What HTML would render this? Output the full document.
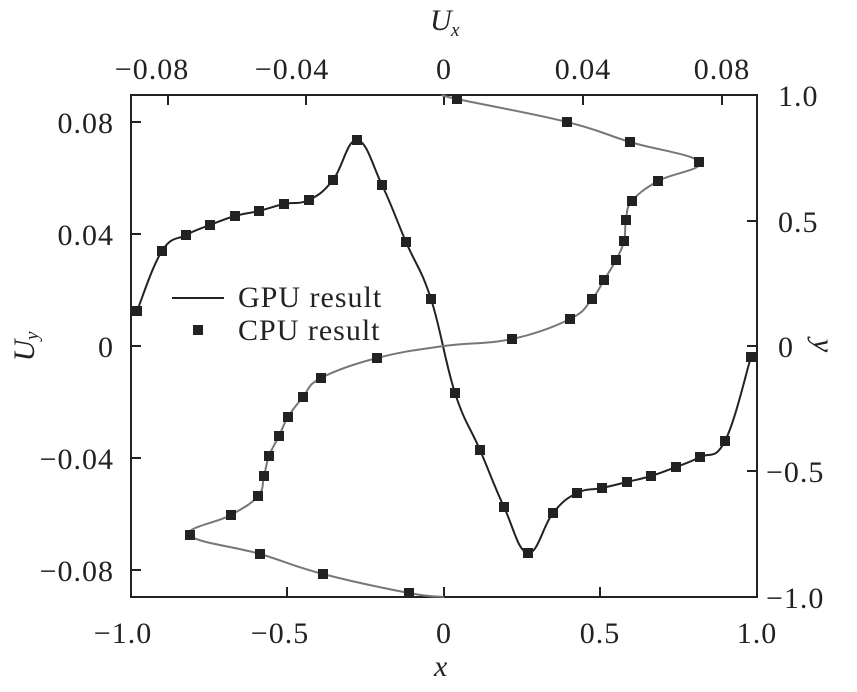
<!DOCTYPE html>
<html><head><meta charset="utf-8"><style>
body{margin:0;background:#fff}
svg text{font-family:"Liberation Serif",serif;font-size:30px;fill:#222;letter-spacing:1px}
</style></head><body>
<svg id="s" width="857" height="687" xmlns="http://www.w3.org/2000/svg">
<rect x="131" y="95" width="626" height="502" fill="none" stroke="#222" stroke-width="2"/>
<g stroke="#222" stroke-width="2">
<line x1="131" y1="122" x2="141" y2="122"/><line x1="131" y1="234" x2="141" y2="234"/><line x1="131" y1="346" x2="141" y2="346"/><line x1="131" y1="458" x2="141" y2="458"/><line x1="131" y1="570" x2="141" y2="570"/>
<line x1="757" y1="221" x2="747" y2="221"/><line x1="757" y1="346" x2="747" y2="346"/><line x1="757" y1="471" x2="747" y2="471"/>
<line x1="287" y1="597" x2="287" y2="587"/><line x1="444" y1="597" x2="444" y2="587"/><line x1="600" y1="597" x2="600" y2="587"/>
<line x1="168" y1="95" x2="168" y2="105"/><line x1="306" y1="95" x2="306" y2="105"/><line x1="444" y1="95" x2="444" y2="105"/><line x1="583" y1="95" x2="583" y2="105"/><line x1="722" y1="95" x2="722" y2="105"/>
</g>
<g text-anchor="end">
<text x="114" y="133">0.08</text><text x="114" y="245">0.04</text><text x="114" y="357">0</text><text x="114" y="469">−0.04</text><text x="114" y="581">−0.08</text>
</g>
<g text-anchor="start">
<text x="778" y="106">1.0</text><text x="778" y="232">0.5</text><text x="778" y="357">0</text><text x="766" y="482">−0.5</text><text x="766" y="608">−1.0</text>
</g>
<g text-anchor="middle">
<text x="123" y="643">−1.0</text><text x="280" y="643">−0.5</text><text x="444" y="643">0</text><text x="600" y="643">0.5</text><text x="757" y="643">1.0</text>
<text x="152" y="79">−0.08</text><text x="292" y="79">−0.04</text><text x="444" y="79">0</text><text x="583" y="79">0.04</text><text x="722" y="79">0.08</text>
</g>
<text x="434" y="676" font-style="italic">x</text>
<text x="430" y="30" font-style="italic">U</text><text x="451" y="36" font-style="italic" style="font-size:19px">x</text>
<text x="34" y="350" font-style="italic" transform="rotate(-90 34 350)" text-anchor="middle">U</text>
<text x="38" y="340" font-style="italic" transform="rotate(-90 38 340)" style="font-size:19px">y</text>
<text x="814" y="346" font-style="italic" transform="rotate(90 814 346)" text-anchor="middle">y</text>
<line x1="172" y1="298" x2="224" y2="298" stroke="#222" stroke-width="2"/>
<text x="238" y="307">GPU result</text>
<rect x="193" y="325" width="10" height="10" fill="#222"/>
<text x="238" y="340">CPU result</text>
<path id="pb" fill="none" stroke="#222" stroke-width="2"/>
<path id="pg" fill="none" stroke="#777" stroke-width="2"/>
<g id="m" fill="#222"></g>
</svg>
<script>
var B=[[137,311],[162,251],[186,235],[210,225],[235,216],[259,211],[284,204],[309,200],[333,180],[357,140],[382,185],[406,242],[431,299],[455,393],[480,450],[504,507],[528,553],[553,513],[577,493],[602,488],[627,482],[651,476],[676,467],[700,457],[725,441],[751,357]];
var G=[[444,95],[457,99],[567,122],[630,142],[699,162],[658,181],[632,201],[626,220],[624,241],[616,260],[604,280],[592,299],[570,319],[512,339],[444,346],[377,358],[321,378],[303,397],[288,417],[279,436],[269,456],[264,476],[258,496],[231,515],[190,535],[260,554],[323,574],[409,593],[444,597]];
function path(P){var d="M"+P[0][0]+","+P[0][1];for(var i=0;i<P.length-1;i++){var p0=P[Math.max(0,i-1)],p1=P[i],p2=P[i+1],p3=P[Math.min(P.length-1,i+2)];var t=0.2;d+=" C"+(p1[0]+(p2[0]-p0[0])*t)+","+(p1[1]+(p2[1]-p0[1])*t)+" "+(p2[0]-(p3[0]-p1[0])*t)+","+(p2[1]-(p3[1]-p1[1])*t)+" "+p2[0]+","+p2[1];}return d;}
document.getElementById("pb").setAttribute("d",path(B));
document.getElementById("pg").setAttribute("d",path(G));
var m=document.getElementById("m"),h="";
function add(P,skip){P.forEach(function(p,i){if(skip.indexOf(i)<0)h+='<rect x="'+(p[0]-5)+'" y="'+(p[1]-5)+'" width="10" height="10"/>';});}
add(B,[]);add(G,[0,14,28]);
m.innerHTML=h;
</script>
</body></html>
